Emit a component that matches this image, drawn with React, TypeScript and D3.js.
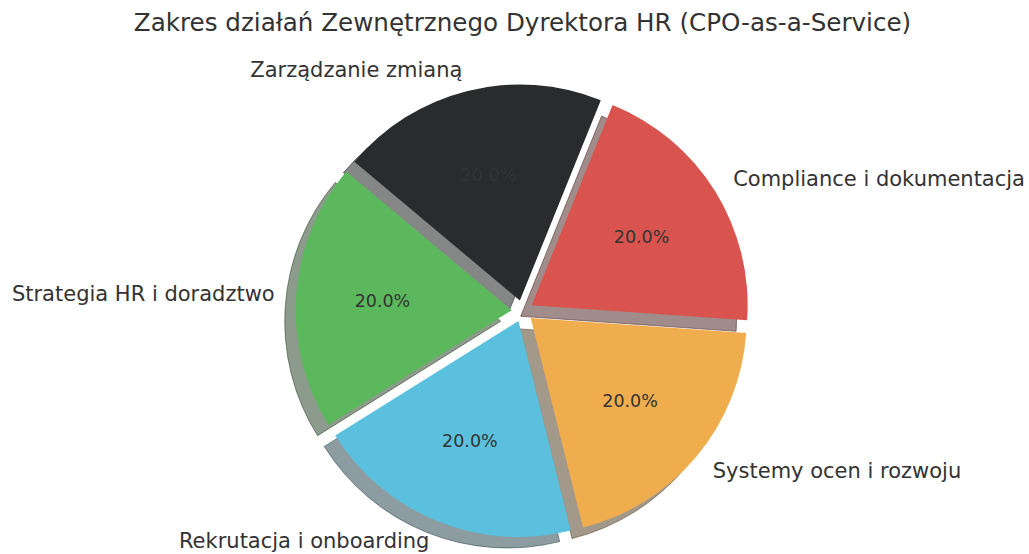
import React from "react";
import * as d3 from "d3";

const title = "Zakres działań Zewnętrznego Dyrektora HR (CPO-as-a-Service)";
const categories = [
  "Strategia HR i doradztwo",
  "Rekrutacja i onboarding",
  "Systemy ocen i rozwoju",
  "Compliance i dokumentacja",
  "Zarządzanie zmianą",
];
const values = [20, 20, 20, 20, 20];
const colors = ["#5cb85c", "#5bc0de", "#f0ad4e", "#d9534f", "#292b2c"];
const explode = [0.05, 0.05, 0.05, 0.05, 0.05];

const W = 1029;
const H = 554;
const CX = 522.5;
const CY = 311;
const R = 216;
const START_DEG = 140; // matplotlib startangle, counter-clockwise
const SHADOW_DX = -11;
const SHADOW_DY = 11;
const FONT = "'DejaVu Sans', sans-serif";
const TEXT = "#333333";

function shade(c: string) {
  const rgb = d3.rgb(c);
  return d3.rgb(rgb.r * 0.3, rgb.g * 0.3, rgb.b * 0.3).formatHex();
}

export default function App() {
  const toRad = (d: number) => (d * Math.PI) / 180;
  const pie = d3
    .pie<number>()
    .sort(null)
    .startAngle(toRad(90 - START_DEG))
    .endAngle(toRad(90 - START_DEG - 360));
  const arcs = pie(values);
  const arcGen = d3.arc<d3.PieArcDatum<number>>().innerRadius(0).outerRadius(R);
  const total = d3.sum(values);

  const items = arcs.map((a, i) => {
    const mid = (a.startAngle + a.endAngle) / 2;
    const ux = Math.sin(mid);
    const uy = -Math.cos(mid);
    const off = explode[i] * R;
    const ox = CX + ux * off;
    const oy = CY + uy * off;
    return { a, i, ux, uy, ox, oy, d: arcGen(a) || "" };
  });

  return (
    <svg width={W} height={H} style={{ position: "absolute", left: 0, top: 0, background: "#fff" }}>
      <rect x={0} y={0} width={W} height={H} fill="#ffffff" />
      <text
        x={522.5}
        y={22}
        textAnchor="middle"
        dominantBaseline="central"
        fontFamily={FONT}
        fontSize={24.6}
        fill={TEXT}
      >
        {title}
      </text>
      <g>
        {items.map((it) => (
          <path
            key={"s" + it.i}
            d={it.d}
            transform={`translate(${it.ox + SHADOW_DX},${it.oy + SHADOW_DY})`}
            fill={shade(colors[it.i])}
            fillOpacity={0.5}
            stroke={shade(colors[it.i])}
            strokeOpacity={0.5}
            strokeWidth={1}
          />
        ))}
      </g>
      <g>
        {items.map((it) => (
          <path key={"w" + it.i} d={it.d} transform={`translate(${it.ox},${it.oy})`} fill={colors[it.i]} />
        ))}
      </g>
      <g fontFamily={FONT} fill={TEXT}>
        {items.map((it) => {
          const lx = it.ox + it.ux * R * 1.1;
          const ly = it.oy + it.uy * R * 1.1;
          const px = it.ox + it.ux * R * 0.6;
          const py = it.oy + it.uy * R * 0.6;
          return (
            <g key={"t" + it.i}>
              <text
                x={lx}
                y={ly}
                textAnchor={it.ux < 0 ? "end" : "start"}
                dominantBaseline="central"
                fontSize={21}
              >
                {categories[it.i]}
              </text>
              <text x={px} y={py} textAnchor="middle" dominantBaseline="central" fontSize={17.5}>
                {((values[it.i] / total) * 100).toFixed(1) + "%"}
              </text>
            </g>
          );
        })}
      </g>
    </svg>
  );
}
